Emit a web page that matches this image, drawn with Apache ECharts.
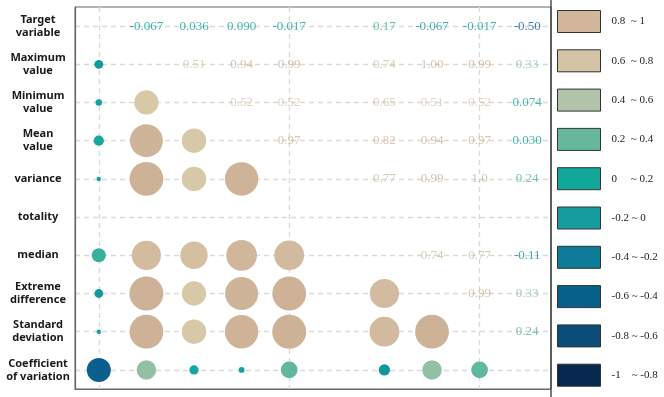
<!DOCTYPE html>
<html>
<head>
<meta charset="utf-8">
<script src="https://cdn.jsdelivr.net/npm/echarts@6/dist/echarts.min.js"></script>
<style>
html,body{margin:0;padding:0;background:#fff;}
#main{width:664px;height:397px;}
</style>
</head>
<body>
<div id="main"></div>
<script>
// Variables (rows top->bottom, columns left->right)
const variables = ['Target variable','Maximum value','Minimum value','Mean value','variance','totality','median','Extreme difference','Standard deviation','Coefficient of variation'];
const axisLabels = ['Target\nvariable','Maximum\nvalue','Minimum\nvalue','Mean\nvalue','variance','totality','median','Extreme\ndifference','Standard\ndeviation','Coefficient\nof variation'];

// Upper-triangle correlation values, as printed (null = not shown)
const rowTarget   = [null,'-0.067','0.036','0.090','-0.017',null,'0.17','-0.067','-0.017','-0.50'];
const rowMaximum  = [null,null,'0.51','0.94','0.99',null,'0.74','1.00','0.99','0.33'];
const rowMinimum  = [null,null,null,'0.52','0.52',null,'0.65','0.51','0.52','0.074'];
const rowMean     = [null,null,null,null,'0.97',null,'0.82','0.94','0.97','0.030'];
const rowVariance = [null,null,null,null,null,null,'0.77','0.99','1.0','0.24'];
const rowTotality = [null,null,null,null,null,null,null,null,null,null];
const rowMedian   = [null,null,null,null,null,null,null,'0.74','0.77','-0.11'];
const rowExtreme  = [null,null,null,null,null,null,null,null,'0.99','0.33'];
const rowStd      = [null,null,null,null,null,null,null,null,null,'0.24'];
const rowCV       = [null,null,null,null,null,null,null,null,null,null];
const upper = [rowTarget,rowMaximum,rowMinimum,rowMean,rowVariance,rowTotality,rowMedian,rowExtreme,rowStd,rowCV];

// Legend bands
const legendNames  = ['0.8  ~ 1','0.6  ~ 0.8','0.4  ~ 0.6','0.2  ~ 0.4','0     ~ 0.2','-0.2 ~ 0','-0.4 ~ -0.2','-0.6 ~ -0.4','-0.8 ~ -0.6','-1    ~ -0.8'];
const legendColors = ['#d1b69b','#d4c3a4','#b1c3a9','#65b89b','#11a89a','#149c9e','#0e7b98','#06608a','#0b4d78','#06284e'];

// colour ramp from -1 to 1 (step 0.1)
const ramp = ['#062a50','#06355e','#0a4470','#0a4e7c','#075a87','#0a5f8e','#08708f','#0b7f96','#0e8a9a','#12979d',
              '#14a19c','#17a89b','#45b39c','#85bea4','#b4c6a8','#d7caa8','#d5c3a3','#d3bd9f','#d0b89c','#cfb59a','#cdb298'];

const circles = [];
const texts = [];
for (let i = 0; i < upper.length; i++) {
  for (let j = 0; j < upper[i].length; j++) {
    const s = upper[i][j];
    if (s === null) continue;
    const v = parseFloat(s);
    texts.push({value: [j, i, v], label: s});
    circles.push([i, j, v]);   // mirrored cell in lower triangle
  }
}

const chart = echarts.init(document.getElementById('main'));
const splitStyle = {show: true, alignWithLabel: true, lineStyle: {color: '#d9d9d9', type: [5, 4], width: 1.3}};

const legendSeries = legendNames.map((n, k) => ({
  name: n, type: 'scatter', data: [], itemStyle: {color: legendColors[k], opacity: 1}
}));

chart.setOption({
  animation: false,
  backgroundColor: '#fff',
  grid: {left: 75, top: 7, right: 113, bottom: 8, show: true, borderColor: '#666', borderWidth: 1},
  xAxis: {
    type: 'category', data: variables, boundaryGap: true,
    axisLine: {show: true, lineStyle: {color: '#666', width: 1.2}},
    axisTick: {show: false}, axisLabel: {show: false},
    splitLine: splitStyle
  },
  yAxis: {
    type: 'category', data: axisLabels, inverse: true, boundaryGap: true,
    axisLine: {show: true, lineStyle: {color: '#666', width: 1.2}},
    axisTick: {show: false},
    axisLabel: {align: 'center', margin: 37, fontFamily: 'Noto Sans', fontWeight: 'bold', fontSize: 11, lineHeight: 13, color: '#1a1a1a'},
    splitLine: splitStyle
  },
  visualMap: {
    type: 'continuous', show: false, min: -1, max: 1, dimension: 2, seriesIndex: [0, 1],
    inRange: {color: ramp}
  },
  legend: {
    orient: 'vertical', left: 557, top: 10, padding: 0, itemWidth: 43, itemHeight: 22, itemGap: 16.3,
    icon: 'rect', data: legendNames,
    itemStyle: {borderColor: '#333', borderWidth: 1, opacity: 1},
    textStyle: {fontFamily: 'Liberation Serif', fontSize: 11, color: '#222', padding: [0, 0, 0, 6]},
    selectedMode: false
  },
  series: [
    {
      type: 'scatter', data: circles,
      symbolSize: d => 34 * Math.sqrt(Math.abs(d[2])),
      itemStyle: {opacity: 1}
    },
    {
      type: 'scatter', data: texts, symbolSize: 0,
      label: {show: true, position: 'inside', formatter: p => p.data.label, color: 'inherit',
              fontFamily: 'Liberation Serif', fontSize: 13}
    }
  ].concat(legendSeries),
  graphic: [
    {type: 'line', shape: {x1: 551, y1: 0, x2: 551, y2: 397}, style: {stroke: '#222', lineWidth: 1.2}}
  ]
});
</script>
</body>
</html>
